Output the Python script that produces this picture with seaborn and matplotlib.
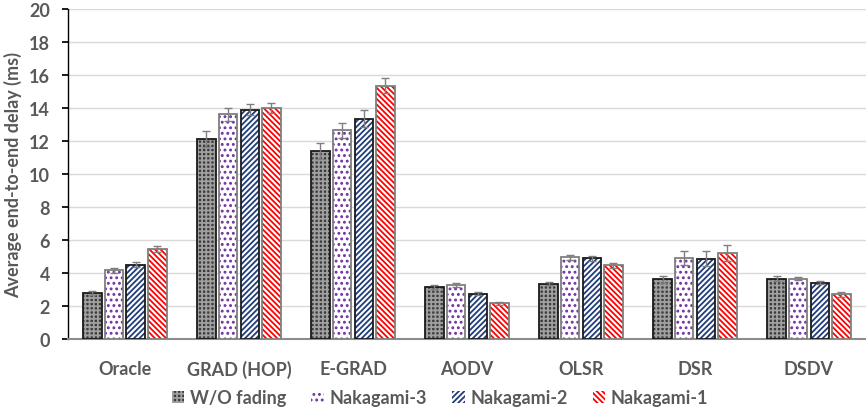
import matplotlib
matplotlib.use("Agg")
import matplotlib.pyplot as plt
import seaborn as sns
import pandas as pd
import numpy as np
from matplotlib.patches import Patch

categories = ["Oracle", "GRAD (HOP)", "E-GRAD", "AODV", "OLSR", "DSR", "DSDV"]
series = ["W/O fading", "Nakagami-3", "Nakagami-2", "Nakagami-1"]
wo_fading = [2.8, 12.1, 11.4, 3.15, 3.35, 3.6, 3.65]
nakagami3 = [4.15, 13.6, 12.65, 3.25, 4.95, 4.9, 3.65]
nakagami2 = [4.5, 13.9, 13.35, 2.75, 4.9, 4.85, 3.4]
nakagami1 = [5.45, 14.0, 15.35, 2.15, 4.45, 5.2, 2.7]
err_wo = [0.12, 0.5, 0.5, 0.1, 0.1, 0.2, 0.15]
err_n3 = [0.15, 0.4, 0.45, 0.12, 0.15, 0.4, 0.1]
err_n2 = [0.15, 0.35, 0.5, 0.1, 0.15, 0.45, 0.1]
err_n1 = [0.2, 0.3, 0.45, 0.1, 0.15, 0.5, 0.15]
yticks = [0, 2, 4, 6, 8, 10, 12, 14, 16, 18, 20]

values = [wo_fading, nakagami3, nakagami2, nakagami1]
errors = [err_wo, err_n3, err_n2, err_n1]

rows = []
for s, vals in zip(series, values):
    for c, v in zip(categories, vals):
        rows.append({"cat": c, "series": s, "val": v})
df = pd.DataFrame(rows)

sns.set_theme(style="white")
plt.rcParams["font.family"] = ["Lato", "DejaVu Sans"]
plt.rcParams["hatch.linewidth"] = 1.3

styles = [
    dict(face="#3c3c3c", hatch="++++", hcolor="#a0a0a0", edge="#1a1a1a"),
    dict(face="white", hatch="...", hcolor="#7030a0", edge="#7f7f7f"),
    dict(face="white", hatch="//////", hcolor="#1f3d7a", edge="#1a1a1a"),
    dict(face="white", hatch="\\\\\\\\\\\\", hcolor="#ff0000", edge="#7f7f7f"),
]

fig = plt.figure(figsize=(8.66, 4.10), dpi=100)
ax = fig.add_axes([0.0785, 0.171, 0.9215, 0.805])

sns.barplot(data=df, x="cat", y="val", hue="series", order=categories,
            hue_order=series, errorbar=None, width=0.76, gap=0.14,
            ax=ax, legend=False, zorder=3)

text_color = "#595959"
fs = 13
for cont, st, errs in zip(ax.containers, styles, errors):
    for p, e in zip(cont.patches, errs):
        p.set_facecolor(st["face"])
        p.set_hatch(st["hatch"])
        p.set_edgecolor(st["hcolor"])
        p.set_linewidth(0)
        x0, w, h = p.get_x(), p.get_width(), p.get_height()
        outline = plt.Rectangle((x0, 0), w, h, fill=False,
                                edgecolor=st["edge"], linewidth=1.3, zorder=4)
        ax.add_patch(outline)
        ax.errorbar(x0 + w / 2, h, yerr=e, fmt="none", ecolor="#7f7f7f",
                    elinewidth=1.0, capsize=3, capthick=1.0, zorder=5)

ax.set_ylim(0, 20)
ax.set_yticks(yticks)
ax.set_xlim(-0.5, len(categories) - 0.5)
ax.yaxis.grid(True, color="#d9d9d9", linewidth=1.0, zorder=0)
ax.set_axisbelow(True)
for s in ["top", "right"]:
    ax.spines[s].set_visible(False)
ax.spines["left"].set_color("#000000")
ax.spines["left"].set_linewidth(1.0)
ax.spines["bottom"].set_color("#8c8c8c")
ax.spines["bottom"].set_linewidth(1.5)
ax.tick_params(axis="y", left=True, length=4, color="#000000", labelsize=fs,
               labelcolor=text_color, pad=9)
ax.tick_params(axis="x", bottom=False, labelsize=fs, labelcolor=text_color, pad=9)
for lab in ax.get_xticklabels() + ax.get_yticklabels():
    lab.set_fontweight("bold")
ax.set_xlabel("")
ax.set_ylabel("Average end-to-end delay (ms)", fontsize=fs, fontweight="bold",
              color=text_color, labelpad=5)

handles = [Patch(facecolor=st["face"], hatch=st["hatch"], edgecolor=st["hcolor"],
                 linewidth=0) for st in styles]
leg = fig.legend(handles, series, loc="center", bbox_to_anchor=(0.508, 0.027),
                 ncol=4, frameon=False, handlelength=0.7, handleheight=0.7,
                 handletextpad=0.3, columnspacing=1.4,
                 prop={"size": fs, "weight": "bold"})
for t in leg.get_texts():
    t.set_color(text_color)

fig.savefig("out.png", dpi=100)
